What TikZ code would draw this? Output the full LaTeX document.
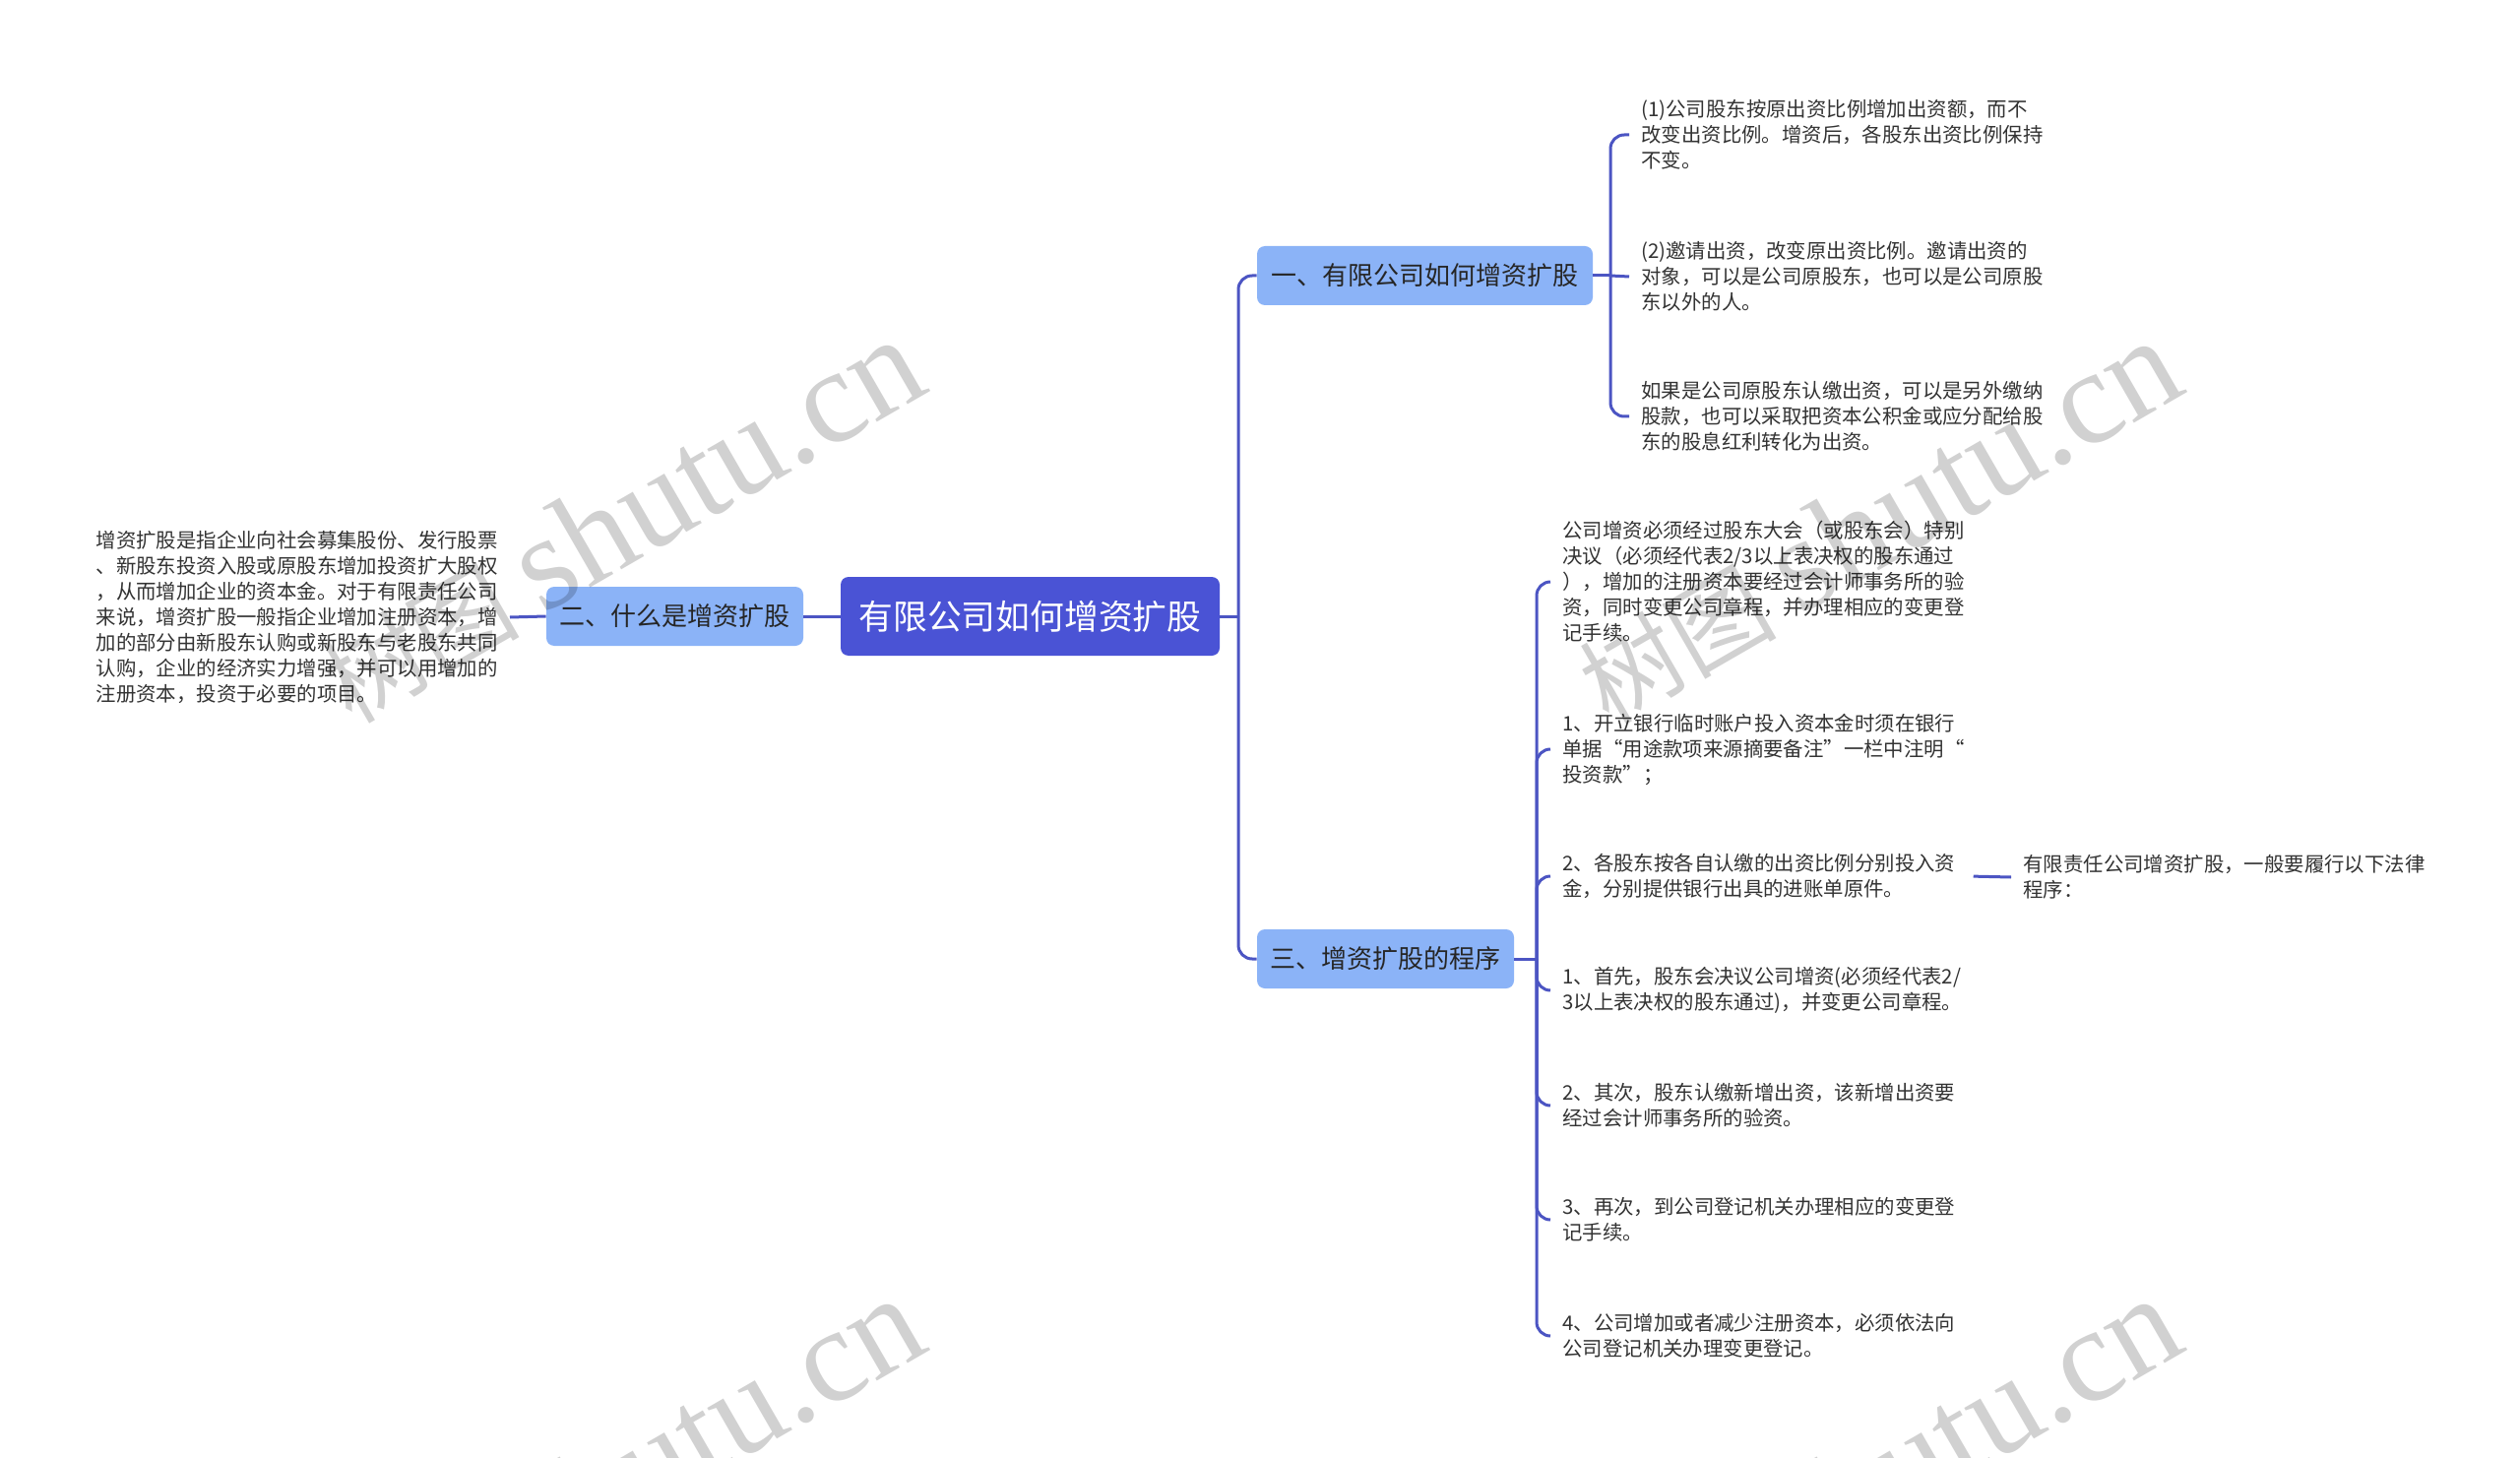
\documentclass[tikz,border=0pt]{standalone}
\usepackage{fontspec}
\setmainfont{Noto Sans CJK SC}
\newfontfamily\wmfont{Liberation Serif}
\definecolor{rootc}{HTML}{4A53D5}
\definecolor{brc}{HTML}{8BB3F7}
\definecolor{linec}{HTML}{4C55C3}
\definecolor{txtc}{HTML}{333333}
\begin{document}
\begin{tikzpicture}[x=0.5pt,y=-0.5pt,
  conn/.style={draw=linec,line width=1.5pt,rounded corners=7pt},
  rootbox/.style={fill=rootc,rounded corners=4pt,minimum width=192.5pt,minimum height=40pt,inner sep=0pt,text=white,font=\fontsize{17.4}{20}\selectfont},
  brbox/.style={fill=brc,rounded corners=4pt,minimum height=30pt,inner sep=0pt,text=black!85,font=\fontsize{13}{16}\selectfont},
  leaf/.style={align=left,inner xsep=6pt,inner ysep=0pt,text=txtc,font=\fontsize{10.2}{13}\selectfont},
  wm/.style={text=black,opacity=0.18,rotate=30,anchor=base east,inner sep=0pt}]
\useasboundingbox (0,0) rectangle (2560,1481);
\fill[white] (0,0) rectangle (2560,1481);

% main nodes
\node[rootbox] (root) at (1046.5,626) {有限公司如何增资扩股};
\node[brbox,minimum width=170.5pt] (b1) at (1447.5,280) {一、有限公司如何增资扩股};
\node[brbox,minimum width=130.5pt] (b2) at (685.5,626) {二、什么是增资扩股};
\node[brbox,minimum width=130.5pt] (b3) at (1407.5,974) {三、增资扩股的程序};

% left paragraph
\node[leaf,anchor=east] (p) at (518,627) {增资扩股是指企业向社会募集股份、发行股票\\、新股东投资入股或原股东增加投资扩大股权\\，从而增加企业的资本金。对于有限责任公司\\来说，增资扩股一般指企业增加注册资本，增\\加的部分由新股东认购或新股东与老股东共同\\认购，企业的经济实力增强，并可以用增加的\\注册资本，投资于必要的项目。};

% branch 1 children
\node[leaf,anchor=west] (c11) at (1655,137) {(1)公司股东按原出资比例增加出资额，而不\\改变出资比例。增资后，各股东出资比例保持\\不变。};
\node[leaf,anchor=west] (c12) at (1655,281) {(2)邀请出资，改变原出资比例。邀请出资的\\对象，可以是公司原股东，也可以是公司原股\\东以外的人。};
\node[leaf,anchor=west] (c13) at (1655,423) {如果是公司原股东认缴出资，可以是另外缴纳\\股款，也可以采取把资本公积金或应分配给股\\东的股息红利转化为出资。};

% branch 3 children
\node[leaf,anchor=west] (d1) at (1575,591) {公司增资必须经过股东大会（或股东会）特别\\决议（必须经代表2/3以上表决权的股东通过\\），增加的注册资本要经过会计师事务所的验\\资，同时变更公司章程，并办理相应的变更登\\记手续。};
\node[leaf,anchor=west] (d2) at (1575,761) {1、开立银行临时账户投入资本金时须在银行\\单据“用途款项来源摘要备注”一栏中注明“\\投资款”；};
\node[leaf,anchor=west] (d3) at (1575,890) {2、各股东按各自认缴的出资比例分别投入资\\金，分别提供银行出具的进账单原件。};
\node[leaf,anchor=west] (d4) at (1575,1006) {1、首先，股东会决议公司增资(必须经代表2/\\3以上表决权的股东通过)，并变更公司章程。};
\node[leaf,anchor=west] (d5) at (1575,1123) {2、其次，股东认缴新增出资，该新增出资要\\经过会计师事务所的验资。};
\node[leaf,anchor=west] (d6) at (1575,1239) {3、再次，到公司登记机关办理相应的变更登\\记手续。};
\node[leaf,anchor=west] (d7) at (1575,1357) {4、公司增加或者减少注册资本，必须依法向\\公司登记机关办理变更登记。};
\node[leaf,anchor=west] (e1) at (2043,891) {有限责任公司增资扩股，一般要履行以下法律\\程序：};

% junction coordinates
\coordinate (t) at (1258,626);
\coordinate (k1) at (1636,280);
\coordinate (k3) at (1561,974);

% connectors
\draw[conn] (root.east) -- (t);
\draw[conn] (t) |- (b1.west);
\draw[conn] (t) |- (b3.west);
\draw[conn] (root.west) -- (b2.east);
\draw[conn] (b2.west) -- (p.east);
\draw[conn] (b1.east) -- (k1);
\draw[conn] (k1) |- (c11.west);
\draw[conn] (k1) -- (c12.west);
\draw[conn] (k1) |- (c13.west);
\draw[conn] (b3.east) -- (k3);
\foreach \n in {d1,d2,d3,d4,d5,d6,d7}{\draw[conn] (k3) |- (\n.west);}
\draw[conn,shorten <=3pt] (d3.east) -- (e1.west);

% watermarks
\foreach \p/\q in {948/396,2225/397,948/1370,2225/1370}{
  \node[wm] at (\p,\q) {{\fontsize{50}{50}\selectfont 树图}\hspace{12pt}{\wmfont\fontsize{68}{68}\selectfont shutu.cn}};
}
\end{tikzpicture}
\end{document}
